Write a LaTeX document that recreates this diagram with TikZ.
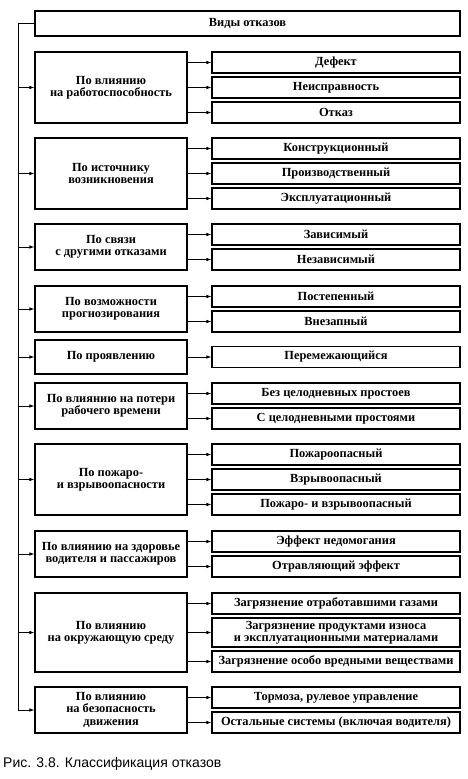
\documentclass[tikz,border=0pt]{standalone}
\usepackage{fontspec}
\setmainfont{Liberation Serif}
\newfontfamily\capfont{Liberation Sans}
\usetikzlibrary{arrows.meta}

\begin{document}
\begin{tikzpicture}[x=1pt, y=-1pt,
			>={Latex[length=5pt,width=3.6pt]},   %Pfeilspitzen
			font=\fontsize{12.4}{12.4}\selectfont\bfseries,
			kbox/.style={draw, line width=1.1pt, inner sep=0pt, minimum width=152pt, minimum height=#1, align=center},
			vbox/.style={draw, line width=1.1pt, inner sep=0pt, minimum width=248pt, minimum height=#1, align=center},
			vbox/.default=21pt,
			pfeil/.style={->, line width=0.8pt}]
			\useasboundingbox (0,0) rectangle (468,779);
			% Kopf
			\node[draw, line width=1.1pt, inner sep=0pt, minimum width=425pt, minimum height=25pt] (hdr) at (247.5,23.5) {Виды отказов};
			\coordinate (trunk) at (18,23.5);
			% Kriterien (links)
			\node[kbox=71pt] (k1) at (111,87.5) {По влиянию\\на работоспособность};
			\node[kbox=71pt] (k2) at (111,173.5) {По источнику\\возникновения};
			\node[kbox=46pt] (k3) at (111,247) {По связи\\с другими отказами};
			\node[kbox=46pt] (k4) at (111,309) {По возможности\\прогнозирования};
			\node[kbox=34pt] (k5) at (111,357) {По проявлению};
			\node[kbox=46pt] (k6) at (111,406) {По влиянию на потери\\рабочего времени};
			\node[kbox=71pt] (k7) at (111,479.5) {По пожаро-\\и взрывоопасности};
			\node[kbox=46pt] (k8) at (111,554) {По влиянию на здоровье\\водителя и пассажиров};
			\node[kbox=79pt] (k9) at (111,632.5) {По влиянию\\на окружающую среду};
			\node[kbox=46pt] (k10) at (111,710) {По влиянию\\на безопасность\\движения};
			% Arten (rechts)
			\node[vbox] (v11) at (336,62.5) {Дефект};
			\node[vbox] (v12) at (336,87.5) {Неисправность};
			\node[vbox] (v13) at (336,112.5) {Отказ};
			\node[vbox] (v21) at (336,148.5) {Конструкционный};
			\node[vbox] (v22) at (336,173.5) {Производственный};
			\node[vbox] (v23) at (336,198.5) {Эксплуатационный};
			\node[vbox] (v31) at (336,234.5) {Зависимый};
			\node[vbox] (v32) at (336,259.5) {Независимый};
			\node[vbox] (v41) at (336,296.5) {Постепенный};
			\node[vbox] (v42) at (336,321.5) {Внезапный};
			\node[vbox] (v51) at (336,357) {Перемежающийся};
			\node[vbox] (v61) at (336,393.5) {Без целодневных простоев};
			\node[vbox] (v62) at (336,418.5) {С целодневными простоями};
			\node[vbox] (v71) at (336,454.5) {Пожароопасный};
			\node[vbox] (v72) at (336,479.5) {Взрывоопасный};
			\node[vbox] (v73) at (336,504.5) {Пожаро- и взрывоопасный};
			\node[vbox] (v81) at (336,541.5) {Эффект недомогания};
			\node[vbox] (v82) at (336,566.5) {Отравляющий эффект};
			\node[vbox] (v91) at (336,603.5) {Загрязнение отработавшими газами};
			\node[vbox=29pt] (v92) at (336,632.5) {Загрязнение продуктами износа\\и эксплуатационными материалами};
			\node[vbox] (v93) at (336,661.5) {Загрязнение особо вредными веществами};
			\node[vbox] (v101) at (336,697.5) {Тормоза, рулевое управление};
			\node[vbox] (v102) at (336,722.5) {Остальные системы (включая водителя)};
			% Verbindungen
			\draw[line width=0.8pt] (hdr.west) -- (trunk);
			\draw[pfeil] (trunk) |- (k10.west);
			\foreach \k in {k1,k2,k3,k4,k5,k6,k7,k8,k9} \draw[pfeil] (trunk |- \k.west) -- (\k.west);
			\foreach \k/\v in {k1/v11,k1/v12,k1/v13,k2/v21,k2/v22,k2/v23,k3/v31,k3/v32,k4/v41,k4/v42,k5/v51,k6/v61,k6/v62,k7/v71,k7/v72,k7/v73,k8/v81,k8/v82,k9/v91,k9/v92,k9/v93,k10/v101,k10/v102} \draw[pfeil] (\k.east |- \v.west) -- (\v.west);
			% Bildunterschrift
			\node[font=\capfont\fontsize{14}{16}\selectfont, anchor=west, inner sep=0pt] (cap) at (3,764) {Рис. 3.8. Классификация отказов};
		\end{tikzpicture}
\end{document}
